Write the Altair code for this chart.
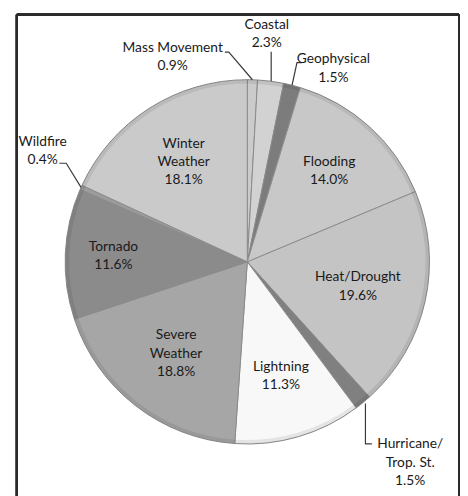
import math
import altair as alt
import pandas as pd

# ---- data ----
categories = ["Mass Movement", "Coastal", "Geophysical", "Flooding", "Heat/Drought",
              "Hurricane/Trop. St.", "Lightning", "Severe Weather", "Tornado",
              "Wildfire", "Winter Weather"]
values = [0.9, 2.3, 1.5, 14.0, 19.6, 1.5, 11.3, 18.8, 11.6, 0.4, 18.1]
label_names = ["Mass Movement", "Coastal", "Geophysical", "Flooding", "Heat/Drought",
               "Hurricane/\nTrop. St.", "Lightning", "Severe\nWeather", "Tornado",
               "Wildfire", "Winter\nWeather"]
fills = ["#cbcbcb", "#d2d2d2", "#7c7c7c", "#c8c8c8", "#c4c4c4",
         "#808080", "#f8f8f8", "#a6a6a6", "#8b8b8b", "#9c9c9c", "#cacaca"]

# ---- layout (style constants) ----
W, H = 449, 500
CX, CY, R = 234, 251, 185
LH = 18.5
inside_radius = {"Flooding": 124, "Heat/Drought": 115, "Lightning": 121,
                 "Severe Weather": 118, "Tornado": 136, "Winter Weather": 120}
# outside labels: label-centre offset from slice edge point, leader points offsets
outside = {
    "Mass Movement": ((-81, -23), [(0, 0), (-24, -28), (-28, -28)]),
    "Coastal": ((-4, -48), [(0.5, 0), (0.5, -30)]),
    "Geophysical": ((42, -17), [(0, 0), (5, -23), (10, -23)]),
    "Hurricane/Trop. St.": ((48, 61), [(2.5, 1), (2.5, 42), (9, 42)]),
    "Wildfire": ((-39, -37), [(0, 0), (-15, -24.5), (-22, -24.5)]),
}

total = sum(values)
cum = 0.0
rows, labels, leaders = [], [], []
for i, (c, v) in enumerate(zip(categories, values)):
    mid = (cum + v / 2) / total * 2 * math.pi
    cum += v
    rows.append({"cat": c, "v": v, "idx": i, "fill": fills[i]})
    text = f"{label_names[i]}\n{v:.1f}%"
    shift = (text.count("\n")) * LH / 2
    if c in inside_radius:
        r = inside_radius[c]
        labels.append({"t": text, "px": CX + r * math.sin(mid),
                       "py": CY - r * math.cos(mid) - shift})
    else:
        ex, ey = CX + R * math.sin(mid), CY - R * math.cos(mid)
        (ox, oy), pts = outside[c]
        labels.append({"t": text, "px": ex + ox, "py": ey + oy - shift})
        for k, (dx, dy) in enumerate(pts):
            leaders.append({"cat": c, "k": k, "px": ex + dx, "py": ey + dy})

df = pd.DataFrame(rows)
ldf = pd.DataFrame(labels)
lead = pd.DataFrame(leaders)

pie = alt.Chart(df).mark_arc(outerRadius=R, stroke="#8a8a8a", strokeWidth=1).encode(
    theta=alt.Theta("v:Q", stack=True),
    order=alt.Order("idx:Q"),
    color=alt.Color("fill:N", scale=None),
    x=alt.value(CX), y=alt.value(CY),
)

ring = alt.Chart(df).mark_arc(innerRadius=R - 4, outerRadius=R, color="#000000",
                              opacity=0.08).encode(
    theta=alt.Theta("v:Q", stack=True),
    order=alt.Order("idx:Q"),
    x=alt.value(CX), y=alt.value(CY),
)

lines = alt.Chart(lead).mark_line(color="#3a3a3a", strokeWidth=1.2).encode(
    x=alt.X("px:Q", scale=None, axis=None),
    y=alt.Y("py:Q", scale=None, axis=None),
    detail="cat:N",
    order="k:Q",
)

txt = alt.Chart(ldf).mark_text(font="Lato", fontSize=14, color="#1a1a1a",
                               lineBreak="\n", lineHeight=LH,
                               align="center", baseline="middle").encode(
    x=alt.X("px:Q", scale=None, axis=None),
    y=alt.Y("py:Q", scale=None, axis=None),
    text="t:N",
)

bl = alt.Chart(df).mark_rule(color="#2a2a2a", strokeWidth=2).encode(
    x=alt.value(0), y=alt.value(0), y2=alt.value(H + 20))
bt = alt.Chart(df).mark_rule(color="#2a2a2a", strokeWidth=2).encode(
    x=alt.value(0), x2=alt.value(W), y=alt.value(0))
br = alt.Chart(df).mark_rule(color="#2a2a2a", strokeWidth=2).encode(
    x=alt.value(W), y=alt.value(0), y2=alt.value(H + 20))

chart = alt.layer(pie, ring, lines, txt, bl, bt, br).properties(
    width=W, height=H,
    padding={"left": 9, "top": 3, "right": 1, "bottom": -15},
    autosize=alt.AutoSizeParams(type="none"),
).configure_view(stroke="transparent", strokeOpacity=0).configure(background="#ffffff")

chart.save("out.html", embed_options={"renderer": "svg", "actions": False})
